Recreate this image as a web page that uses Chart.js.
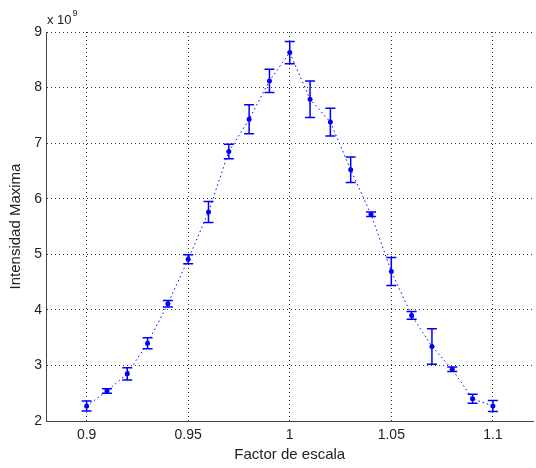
<!DOCTYPE html>
<html>
<head>
<meta charset="utf-8">
<script src="https://cdn.jsdelivr.net/npm/chart.js"></script>
<style>
  html, body { margin: 0; padding: 0; background: #fff; }
</style>
</head>
<body>
<canvas id="intensidad" width="536" height="468"></canvas>
<script>
    // data, intensity in units of 10^9
    const factors = [0.90, 0.91, 0.92, 0.93, 0.94, 0.95, 0.96, 0.97, 0.98, 0.99, 1.00,
                     1.01, 1.02, 1.03, 1.04, 1.05, 1.06, 1.07, 1.08, 1.09, 1.10];
    const intensity = [2.27, 2.54, 2.85, 3.40, 4.11, 4.91, 5.76, 6.85, 7.43, 8.12, 8.63,
                       7.79, 7.38, 6.52, 5.72, 4.69, 3.90, 3.34, 2.93, 2.40, 2.27];
    const errors = [0.09, 0.04, 0.11, 0.10, 0.06, 0.08, 0.19, 0.13, 0.26, 0.21, 0.20,
                    0.33, 0.25, 0.23, 0.04, 0.25, 0.07, 0.32, 0.04, 0.08, 0.10];
    const xTicks = [0.9, 0.95, 1, 1.05, 1.1];
    const yTicks = [2, 3, 4, 5, 6, 7, 8, 9];
    const exponent = '9';

    const BLUE = '#0000ff';
    const FONT = 'Arial, "Liberation Sans", sans-serif';

    const errorBars = {
        id: 'errorBars',
        afterDatasetsDraw(chart) {
            const {ctx, scales: {x, y}} = chart;
            ctx.save();
            ctx.strokeStyle = BLUE;
            ctx.lineWidth = 1.5;
            factors.forEach((f, i) => {
                const px = x.getPixelForValue(f);
                const top = y.getPixelForValue(intensity[i] + errors[i]);
                const bot = y.getPixelForValue(intensity[i] - errors[i]);
                ctx.beginPath();
                ctx.moveTo(px, top); ctx.lineTo(px, bot);
                ctx.moveTo(px - 5, top); ctx.lineTo(px + 5, top);
                ctx.moveTo(px - 5, bot); ctx.lineTo(px + 5, bot);
                ctx.stroke();
            });
            ctx.restore();
        }
    };

    // "x 10^9" multiplier above the y axis
    const multiplier = {
        id: 'multiplier',
        afterDraw(chart) {
            const {ctx, chartArea} = chart;
            ctx.save();
            ctx.fillStyle = '#222';
            ctx.textBaseline = 'alphabetic';
            ctx.font = '13px ' + FONT;
            const base = 'x 10';
            const x0 = chartArea.left + 1;
            ctx.fillText(base, x0, chartArea.top - 8);
            const w = ctx.measureText(base).width;
            ctx.font = '9px ' + FONT;
            ctx.fillText(exponent, x0 + w + 1, chartArea.top - 16);
            ctx.restore();
        }
    };

    new Chart(document.getElementById('intensidad'), {
        type: 'scatter',
        data: {
            datasets: [{
                data: factors.map((f, i) => ({x: f, y: intensity[i]})),
                showLine: true,
                borderColor: BLUE,
                backgroundColor: BLUE,
                borderWidth: 1,
                borderDash: [1.5, 3],
                pointRadius: 2.5,
                pointBorderWidth: 0,
                pointHoverRadius: 2.5
            }]
        },
        options: {
            responsive: false,
            animation: false,
            layout: { padding: { top: 32, right: 0, left: 0, bottom: 0 } },
            plugins: { legend: { display: false }, tooltip: { enabled: false } },
            scales: {
                x: {
                    type: 'linear',
                    min: 0.88,
                    max: 1.12,
                    afterBuildTicks: s => { s.ticks = xTicks.map(v => ({value: v})); },
                    afterFit: s => { s.height = 47; },
                    ticks: {
                        padding: 6,
                        color: '#222',
                        font: { size: 14, family: FONT },
                        callback: v => String(+(+v).toFixed(2))
                    },
                    grid: { color: '#333', lineWidth: 1, drawTicks: false },
                    border: { color: '#444', width: 1, dash: [1, 3] },
                    title: {
                        display: true,
                        text: 'Factor de escala',
                        color: '#222',
                        font: { size: 15, family: FONT },
                        padding: { top: 0, bottom: 4 }
                    }
                },
                y: {
                    type: 'linear',
                    min: 2,
                    max: 9,
                    afterBuildTicks: s => { s.ticks = yTicks.map(v => ({value: v})); },
                    afterFit: s => { s.width = 46; },
                    ticks: {
                        padding: 4,
                        color: '#222',
                        font: { size: 14, family: FONT }
                    },
                    grid: { color: '#333', lineWidth: 1, drawTicks: false },
                    border: { color: '#444', width: 1, dash: [1, 3] },
                    title: {
                        display: true,
                        text: 'Intensidad Maxima',
                        color: '#222',
                        font: { size: 15, family: FONT },
                        padding: { top: 7, bottom: 0 }
                    }
                }
            }
        },
        plugins: [errorBars, multiplier]
    });
</script>
</body>
</html>
